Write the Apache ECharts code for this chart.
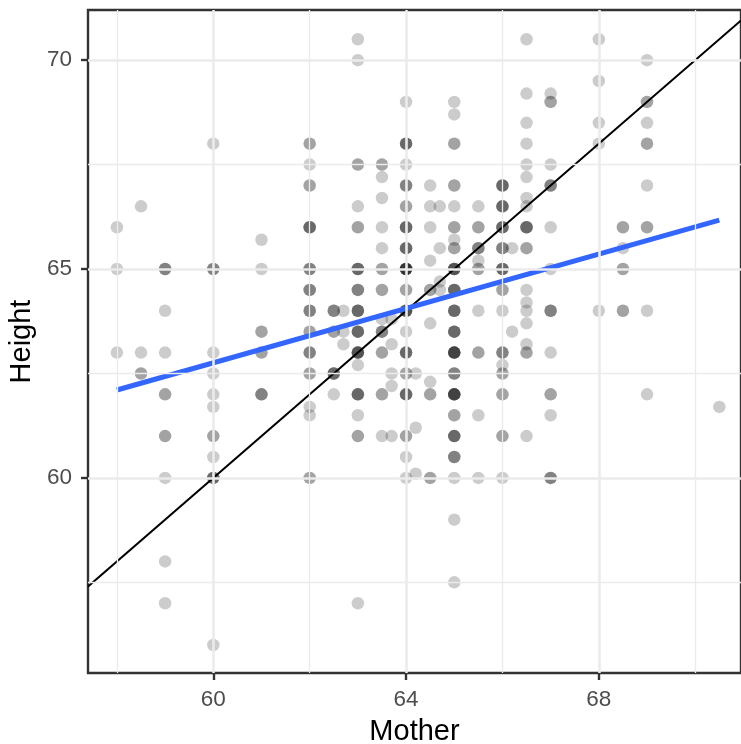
<!DOCTYPE html>
<html>
<head>
<meta charset="utf-8">
<script src="https://cdn.jsdelivr.net/npm/echarts@6/dist/echarts.min.js"></script>
<style>
  html, body { margin: 0; padding: 0; background: #fff; }
  #chart { width: 741px; height: 744px; }
</style>
</head>
<body>
<div id="chart"></div>
<script>
// mother heights (x), grouped: one list of daughter heights and counts per mother value
var mothers = [58, 58.5, 59, 60, 61, 62, 62.5, 62.7, 63, 63.5, 63.7, 64, 64.2, 64.5, 64.7, 65, 65.5, 66, 66.2, 66.5, 67, 68, 68.5, 69, 70.5];
var heights = [
  [66, 65, 63],
  [66.5, 63, 62.5],
  [65, 64, 63, 62, 61, 60, 58, 57],
  [68, 65, 63, 62.5, 62, 61.7, 61, 60.5, 60, 56],
  [65.7, 65, 63.5, 63, 62],
  [68, 67.5, 67, 66, 65, 64.5, 64, 63.5, 63, 62.5, 61.7, 61.5, 60],
  [64, 63.5, 62.5, 62],
  [64, 63.5, 63.2],
  [70.5, 70, 67.5, 66.5, 66, 65, 64.5, 64, 63.5, 63, 62.7, 62, 61.5, 61, 57],
  [67.5, 67.2, 66.7, 66, 65.5, 65, 64.5, 63.8, 63.5, 63, 62, 61],
  [63.8, 63.2, 62.5, 62.2, 61],
  [69, 68, 67.5, 67, 66.5, 66, 65.5, 65, 64.5, 64, 63.5, 63, 62.5, 62, 61, 60.5, 60],
  [62.5, 61.2, 60.1],
  [67, 66.5, 66, 65.2, 64.5, 63.7, 62.3, 62, 60],
  [66.5, 65.5, 64.7, 64.5],
  [69, 68.7, 68, 67, 66.5, 66, 65.7, 65.5, 65, 64.5, 64, 63.5, 63, 62.5, 62, 61.5, 61, 60.5, 60, 59, 57.5],
  [66.5, 66, 65.5, 65.2, 65, 64, 63, 61.5, 60],
  [67, 66.5, 66, 65.5, 65, 64.5, 64, 63, 62.7, 62.5, 62, 61, 60],
  [65.5, 63.5],
  [70.5, 69.2, 68.5, 68, 67.5, 67.2, 66.7, 66.5, 66, 65.5, 64.5, 64.2, 64, 63.7, 63.2, 63, 61],
  [69.2, 69, 67.5, 67, 66, 65, 64, 63, 62, 61.5, 60],
  [70.5, 69.5, 68.5, 68, 64],
  [66, 65.5, 65, 64],
  [70, 69, 68.5, 68, 67, 66, 64, 62],
  [61.7]
];
var counts = [
  [1, 1, 1],
  [1, 1, 2],
  [3, 1, 1, 2, 2, 1, 1, 1],
  [1, 3, 1, 1, 1, 1, 2, 1, 4, 1],
  [1, 1, 2, 2, 3],
  [2, 1, 2, 4, 3, 3, 3, 2, 3, 2, 1, 1, 2],
  [3, 2, 4, 1],
  [1, 1, 1],
  [1, 1, 2, 1, 2, 4, 3, 4, 4, 5, 1, 4, 1, 2, 1],
  [2, 1, 1, 1, 1, 2, 2, 1, 3, 2, 2, 1],
  [1, 1, 1, 1, 1],
  [1, 4, 1, 3, 2, 4, 4, 7, 2, 5, 1, 4, 2, 4, 2, 1, 1],
  [1, 1, 1],
  [1, 1, 1, 1, 2, 1, 1, 2, 2],
  [1, 1, 1, 1],
  [1, 1, 2, 2, 1, 2, 1, 2, 5, 4, 4, 4, 6, 3, 6, 2, 4, 3, 1, 1, 1],
  [1, 2, 3, 1, 2, 1, 2, 1, 1],
  [4, 4, 4, 3, 4, 2, 1, 3, 1, 2, 2, 2, 1],
  [1, 1],
  [1, 1, 1, 1, 1, 1, 1, 1, 4, 2, 1, 1, 1, 1, 1, 2, 1],
  [1, 2, 1, 3, 1, 1, 3, 1, 2, 1, 3],
  [1, 1, 1, 1, 1],
  [2, 1, 2, 2],
  [1, 2, 1, 2, 1, 2, 1, 1],
  [1]
];

// fitted line (lm)
var fitIntercept = 43.243;
var fitSlope = 0.3252;

var xTicks = [60, 64, 68];
var xMinor = [58, 62, 66, 70];
var yTicks = [60, 65, 70];
var yMinor = [57.5, 62.5, 67.5];
var xRange = [57.4, 70.95];
var yRange = [55.33, 71.2];

var points = [];
mothers.forEach(function (m, i) {
  heights[i].forEach(function (h, j) {
    for (var k = 0; k < counts[i][j]; k++) points.push([m, h]);
  });
});

var mMin = Math.min.apply(null, mothers);
var mMax = Math.max.apply(null, mothers);
var fitLine = [[mMin, fitIntercept + fitSlope * mMin], [mMax, fitIntercept + fitSlope * mMax]];
var idLine = [[xRange[0], xRange[0]], [xRange[1], xRange[1]]];

function gridLines(values, key, width) {
  return values.map(function (v) {
    var d = {lineStyle: {width: width}};
    d[key] = v;
    return d;
  });
}

var font = 'Liberation Sans, Arial, sans-serif';
var chart = echarts.init(document.getElementById('chart'));

var option = {
  animation: false,
  grid: {
    left: 88, top: 10, right: 0, bottom: 71,
    outerBoundsMode: 'none', containLabel: false,
    show: true, borderColor: '#333333', borderWidth: 2.4, backgroundColor: '#ffffff'
  },
  xAxis: {
    type: 'value', min: xRange[0], max: xRange[1],
    name: 'Mother', nameLocation: 'middle', nameGap: 44,
    nameTextStyle: {fontSize: 29, color: '#000', fontFamily: font},
    axisLine: {show: false},
    splitLine: {show: false},
    axisTick: {show: true, length: 7, customValues: xTicks, lineStyle: {color: '#333333', width: 2.4}},
    axisLabel: {customValues: xTicks, fontSize: 22.5, color: '#4d4d4d', fontFamily: font, margin: 15}
  },
  yAxis: {
    type: 'value', min: yRange[0], max: yRange[1],
    name: 'Height', nameLocation: 'middle', nameGap: 46, nameRotate: 90,
    nameTextStyle: {fontSize: 29, color: '#000', fontFamily: font},
    axisLine: {show: false},
    splitLine: {show: false},
    axisTick: {show: true, length: 7, customValues: yTicks, lineStyle: {color: '#333333', width: 2.4}},
    axisLabel: {customValues: yTicks, fontSize: 22.5, color: '#4d4d4d', fontFamily: font, margin: 16}
  },
  series: [
    {
      name: 'grid', type: 'line', data: [], z: 0, silent: true,
      markLine: {
        silent: true, symbol: 'none', animation: false,
        label: {show: false},
        lineStyle: {color: '#ebebeb', type: 'solid'},
        emphasis: {disabled: true},
        data: gridLines(xMinor, 'xAxis', 1.3)
          .concat(gridLines(yMinor, 'yAxis', 1.3))
          .concat(gridLines(xTicks, 'xAxis', 2.6))
          .concat(gridLines(yTicks, 'yAxis', 2.6))
      }
    },
    {
      name: 'points', type: 'scatter', data: points, symbolSize: 12.5, z: 2,
      itemStyle: {color: '#000', opacity: 0.2},
      emphasis: {disabled: true}
    },
    {
      name: 'identity', type: 'line', data: idLine, symbol: 'none', z: 3,
      lineStyle: {color: '#000', width: 2.1}
    },
    {
      name: 'fit', type: 'line', data: fitLine, symbol: 'none', z: 4,
      lineStyle: {color: '#3366ff', width: 5}
    }
  ]
};

chart.setOption(option);
</script>
</body>
</html>
